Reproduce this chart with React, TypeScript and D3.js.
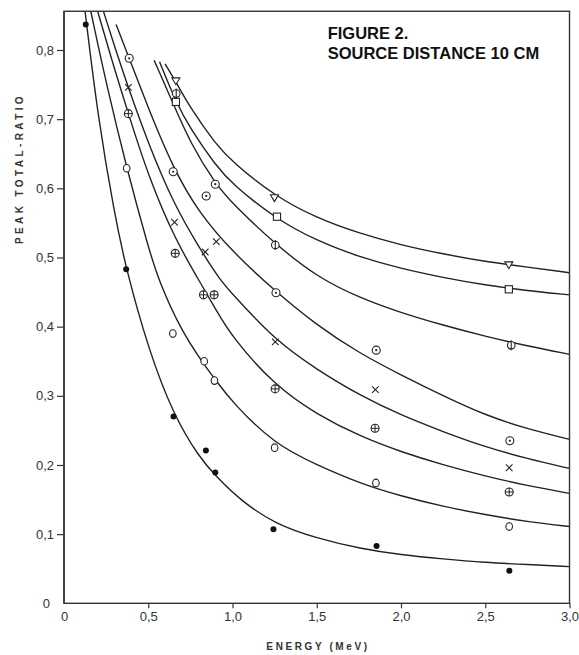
import { useEffect, useRef } from "react";
import { select, scaleLinear, axisLeft, axisBottom, line, curveBasis } from "d3";

const xTicks = [0, 0.5, 1, 1.5, 2, 2.5, 3];
const xTickLabels = ["0", "0,5", "1,0", "1,5", "2,0", "2,5", "3,0"];
const yTicks = [0, 0.1, 0.2, 0.3, 0.4, 0.5, 0.6, 0.7, 0.8];
const yTickLabels = ["0", "0,1", "0,2", "0,3", "0,4", "0,5", "0,6", "0,7", "0,8"];

// drawn curves: [energy MeV, peak/total]
const curveTriangle = [[0.6, 0.78], [0.664, 0.754], [0.75, 0.716], [0.9, 0.664], [1.0, 0.638], [1.25, 0.589], [1.5, 0.557], [1.75, 0.535], [2.0, 0.518], [2.25, 0.505], [2.5, 0.494], [2.75, 0.486], [3.0, 0.478]];
const curveSquare = [[0.567, 0.783], [0.664, 0.725], [0.75, 0.686], [0.9, 0.633], [1.0, 0.606], [1.25, 0.557], [1.5, 0.524], [1.75, 0.501], [2.0, 0.484], [2.25, 0.471], [2.5, 0.46], [2.75, 0.452], [3.0, 0.446]];
const curvePhi = [[0.535, 0.785], [0.64, 0.727], [0.75, 0.665], [0.9, 0.606], [1.0, 0.578], [1.25, 0.52], [1.5, 0.472], [1.75, 0.442], [2.0, 0.42], [2.25, 0.402], [2.5, 0.386], [2.75, 0.372], [3.0, 0.36]];
const curveDotCircle = [[0.309, 0.837], [0.387, 0.788], [0.5, 0.716], [0.65, 0.628], [0.8, 0.565], [1.0, 0.508], [1.25, 0.452], [1.5, 0.402], [1.75, 0.362], [2.0, 0.33], [2.25, 0.3], [2.5, 0.272], [2.75, 0.252], [3.0, 0.237]];
const curveCross = [[0.234, 0.856], [0.3, 0.805], [0.382, 0.745], [0.5, 0.665], [0.65, 0.578], [0.8, 0.515], [0.927, 0.467], [1.0, 0.447], [1.254, 0.38], [1.5, 0.338], [1.76, 0.3], [2.0, 0.272], [2.25, 0.248], [2.5, 0.226], [2.75, 0.209], [3.0, 0.195]];
const curvePlusCircle = [[0.2, 0.856], [0.3, 0.772], [0.382, 0.708], [0.5, 0.618], [0.66, 0.525], [0.83, 0.455], [0.9, 0.425], [1.0, 0.384], [1.25, 0.315], [1.5, 0.273], [1.76, 0.241], [2.0, 0.219], [2.25, 0.2], [2.5, 0.184], [2.75, 0.17], [3.0, 0.159]];
const curveCircle = [[0.159, 0.856], [0.25, 0.752], [0.372, 0.629], [0.5, 0.515], [0.561, 0.467], [0.7, 0.392], [0.832, 0.345], [0.893, 0.325], [1.0, 0.29], [1.25, 0.23], [1.5, 0.2], [1.76, 0.173], [2.0, 0.155], [2.25, 0.14], [2.5, 0.128], [2.75, 0.118], [3.0, 0.111]];
const curveDot = [[0.125, 0.856], [0.2, 0.705], [0.3, 0.562], [0.369, 0.483], [0.5, 0.368], [0.65, 0.272], [0.8, 0.212], [0.9, 0.184], [1.046, 0.149], [1.25, 0.115], [1.5, 0.094], [1.76, 0.079], [2.0, 0.07], [2.25, 0.064], [2.5, 0.059], [2.75, 0.056], [3.0, 0.053]];

// measured points
const pointsTriangle = [[0.664, 0.755], [1.249, 0.586], [2.64, 0.489]];
const pointsSquare = [[0.664, 0.725], [1.264, 0.559], [2.64, 0.454]];
const pointsPhi = [[0.666, 0.737], [1.254, 0.518], [2.654, 0.373]];
const pointsDotCircle = [[0.387, 0.788], [0.648, 0.624], [0.844, 0.589], [0.898, 0.606], [1.258, 0.449], [1.853, 0.366], [2.646, 0.235]];
const pointsCross = [[0.382, 0.746], [0.656, 0.551], [0.838, 0.508], [0.904, 0.523], [1.254, 0.378], [1.848, 0.309], [2.642, 0.196]];
const pointsPlusCircle = [[0.382, 0.708], [0.66, 0.506], [0.828, 0.446], [0.891, 0.446], [1.253, 0.31], [1.846, 0.253], [2.642, 0.161]];
const pointsCircle = [[0.372, 0.629], [0.646, 0.39], [0.832, 0.35], [0.893, 0.322], [1.25, 0.225], [1.851, 0.174], [2.642, 0.111]];
const pointsDot = [[0.129, 0.837], [0.369, 0.483], [0.65, 0.27], [0.842, 0.221], [0.898, 0.189], [1.243, 0.107], [1.855, 0.083], [2.643, 0.047]];

const series = [
  { marker: "triangle", curve: curveTriangle, points: pointsTriangle },
  { marker: "square", curve: curveSquare, points: pointsSquare },
  { marker: "phi", curve: curvePhi, points: pointsPhi },
  { marker: "dotcircle", curve: curveDotCircle, points: pointsDotCircle },
  { marker: "cross", curve: curveCross, points: pointsCross },
  { marker: "pluscircle", curve: curvePlusCircle, points: pointsPlusCircle },
  { marker: "circle", curve: curveCircle, points: pointsCircle },
  { marker: "dot", curve: curveDot, points: pointsDot },
];

const ink = "#222";
const font = "'Liberation Sans', Arial, sans-serif";

function drawMarker(g: any, type: string) {
  switch (type) {
    case "triangle":
      g.append("path").attr("d", "M-4,-3.2L4,-3.2L0,3.6Z").attr("fill", "#fff").attr("stroke", ink).attr("stroke-width", 1.1);
      break;
    case "square":
      g.append("rect").attr("x", -3.6).attr("y", -3.6).attr("width", 7.2).attr("height", 7.2)
        .attr("fill", "#fff").attr("stroke", ink).attr("stroke-width", 1.1);
      break;
    case "phi":
      g.append("circle").attr("r", 3.8).attr("fill", "#fff").attr("stroke", ink).attr("stroke-width", 1.1);
      g.append("line").attr("y1", -5).attr("y2", 5).attr("stroke", ink).attr("stroke-width", 1.1);
      break;
    case "dotcircle":
      g.append("circle").attr("r", 4).attr("fill", "#fff").attr("stroke", ink).attr("stroke-width", 1.1);
      g.append("circle").attr("r", 1.1).attr("fill", ink);
      break;
    case "cross":
      g.append("path").attr("d", "M-3.3,-3.3L3.3,3.3M-3.3,3.3L3.3,-3.3").attr("stroke", ink).attr("stroke-width", 1.1);
      break;
    case "pluscircle":
      g.append("circle").attr("r", 4).attr("fill", "#fff").attr("stroke", ink).attr("stroke-width", 1.1);
      g.append("path").attr("d", "M-4,0L4,0M0,-4L0,4").attr("stroke", ink).attr("stroke-width", 1);
      break;
    case "circle":
      g.append("ellipse").attr("rx", 3.3).attr("ry", 3.8).attr("fill", "#fff").attr("stroke", ink).attr("stroke-width", 1.1);
      break;
    default:
      g.append("circle").attr("r", 3).attr("fill", "#111");
  }
}

function App() {
  const ref = useRef<SVGSVGElement>(null);

  useEffect(() => {
    const svg = select(ref.current);
    svg.selectAll("*").remove();

    const yMax = 0.856;
    const x = scaleLinear().domain([0, 3]).range([64, 569.5]);
    const y = scaleLinear().domain([0, 0.8]).range([603.3, 50]);

    svg.append("clipPath").attr("id", "plot")
      .append("rect").attr("x", x(0)).attr("y", y(yMax))
      .attr("width", x(3) - x(0)).attr("height", y(0) - y(yMax));

    // curves
    const path = line<number[]>().x((d) => x(d[0])).y((d) => y(d[1])).curve(curveBasis);
    const cg = svg.append("g").attr("clip-path", "url(#plot)");
    series.forEach((s) => {
      cg.append("path").attr("d", path(s.curve)).attr("fill", "none")
        .attr("stroke", ink).attr("stroke-width", 1.4);
    });

    // frame
    svg.append("rect").attr("x", x(0)).attr("y", y(yMax))
      .attr("width", x(3) - x(0)).attr("height", y(0) - y(yMax))
      .attr("fill", "none").attr("stroke", "#333").attr("stroke-width", 1.4);
    svg.append("line").attr("x1", x(0)).attr("x2", x(0)).attr("y1", y(yMax)).attr("y2", y(0))
      .attr("stroke", "#444").attr("stroke-width", 2);

    // markers
    series.forEach((s) => {
      s.points.forEach((p) => {
        const g = svg.append("g").attr("transform", `translate(${x(p[0])},${y(p[1])})`);
        drawMarker(g, s.marker);
      });
    });

    // axes
    const yAxis = svg.append("g").attr("transform", `translate(${x(0)},0)`)
      .call(axisLeft(y).tickValues(yTicks).tickSize(7).tickPadding(3)
        .tickFormat((_d: any, i: number) => yTickLabels[i]));
    yAxis.select(".domain").remove();
    yAxis.attr("font-family", font).attr("font-size", 13);
    yAxis.selectAll("line").attr("stroke", "#333").attr("stroke-width", 1.2);
    yAxis.selectAll("text").attr("fill", "#333");
    yAxis.selectAll(".tick").filter((d: any) => d === 0).select("line").remove();
    yAxis.selectAll(".tick").filter((d: any) => d === 0).select("text").attr("x", -14);

    const xAxis = svg.append("g").attr("transform", `translate(0,${y(0)})`)
      .call(axisBottom(x).tickValues(xTicks).tickSize(5).tickPadding(3)
        .tickFormat((_d: any, i: number) => xTickLabels[i]));
    xAxis.select(".domain").remove();
    xAxis.attr("font-family", font).attr("font-size", 13);
    xAxis.selectAll("line").attr("stroke", "#333").attr("stroke-width", 1.2);
    xAxis.selectAll("text").attr("fill", "#333");
    xAxis.selectAll(".tick").filter((d: any) => d === 0).select("line").remove();

    // axis titles
    svg.append("text").attr("x", 318).attr("y", 649.5).attr("text-anchor", "middle")
      .attr("font-family", font).attr("font-size", 10).attr("font-weight", "bold")
      .attr("letter-spacing", 2.6).attr("fill", "#333").text("ENERGY (MeV)");
    svg.append("text").attr("transform", "translate(23,168.5) rotate(-90)").attr("text-anchor", "middle")
      .attr("font-family", font).attr("font-size", 10).attr("font-weight", "bold")
      .attr("letter-spacing", 3.4).attr("fill", "#333").text("PEAK TOTAL-RATIO");

    // title
    svg.append("text").attr("x", 327.7).attr("y", 39).attr("font-family", font)
      .attr("font-size", 16.5).attr("font-weight", "bold").attr("fill", "#111").text("FIGURE 2.");
    svg.append("text").attr("x", 327.7).attr("y", 59.3).attr("font-family", font)
      .attr("font-size", 16.5).attr("font-weight", "bold").attr("fill", "#111").text("SOURCE DISTANCE 10 CM");
  }, []);

  return (
    <svg ref={ref} width="579" height="655"
      style={{ position: "absolute", left: 0, top: 0, background: "#fff" }} />
  );
}

export default App;
